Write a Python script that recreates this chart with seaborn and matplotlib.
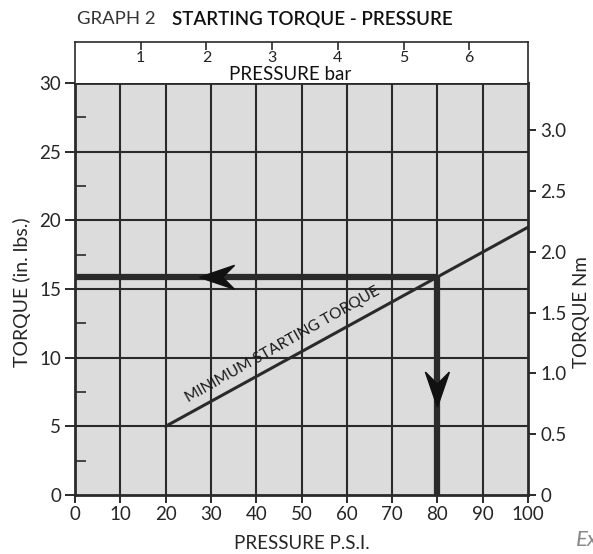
import numpy as np
import pandas as pd
import matplotlib
matplotlib.use("Agg")
import matplotlib.pyplot as plt
import seaborn as sns

# ---- data ----
line_psi = [20, 100]
line_torque = [5.0, 19.5]
op_psi = 80
op_torque = 15.85
psi_ticks = [0, 10, 20, 30, 40, 50, 60, 70, 80, 90, 100]
psi_labels = ["0", "10", "20", "30", "40", "50", "60", "70", "80", "90", "100"]
torque_ticks = [0, 5, 10, 15, 20, 25, 30]
nm_ticks = [0, 0.5, 1.0, 1.5, 2.0, 2.5, 3.0]
nm_labels = ["0", "0.5", "1.0", "1.5", "2.0", "2.5", "3.0"]
bar_ticks = [1, 2, 3, 4, 5, 6]
PSI_PER_BAR = 14.5038
INLB_PER_NM = 8.8507

sns.set_style("white")
plt.rcParams['font.family'] = ['Lato', 'DejaVu Sans']

W, H = 593, 554
fig = plt.figure(figsize=(W / 100, H / 100), dpi=100)
L, R, T, B = 75, 528, 83, 495
ax = fig.add_axes([L / W, 1 - B / H, (R - L) / W, (B - T) / H])
ax.set_facecolor("#dcdcdc")
dark = "#2a2a2a"

# grid
for x in psi_ticks[1:-1]:
    ax.axvline(x, color=dark, lw=1.5, zorder=1)
for y in torque_ticks[1:-1]:
    ax.axhline(y, color=dark, lw=1.5, zorder=1)

df = pd.DataFrame({"psi": line_psi, "torque": line_torque})
sns.lineplot(data=df, x="psi", y="torque", ax=ax, color=dark, lw=2.2, zorder=3)

# operating point lines
ax.plot([0, op_psi], [op_torque, op_torque], color=dark, lw=4.5, zorder=4, solid_capstyle="butt")
ax.plot([op_psi, op_psi], [0, op_torque + 0.15], color=dark, lw=4.5, zorder=4, solid_capstyle="butt")

def arrowhead(ax, tip, direction, length_px=35, half_w_px=12, notch_px=12):
    dxp = 100 / (R - L)
    dyp = 30 / (B - T)
    tx, ty = tip
    if direction == "left":
        pts = [(tx, ty), (tx + length_px * dxp, ty + half_w_px * dyp),
               (tx + (length_px - notch_px) * dxp, ty), (tx + length_px * dxp, ty - half_w_px * dyp)]
    else:
        pts = [(tx, ty), (tx - half_w_px * dxp, ty + length_px * dyp),
               (tx, ty + (length_px - notch_px) * dyp), (tx + half_w_px * dxp, ty + length_px * dyp)]
    ax.add_patch(plt.Polygon(pts, closed=True, color="#111111", zorder=5))

arrowhead(ax, (27.5, op_torque), "left")
arrowhead(ax, (op_psi, 6.4), "down")

ax.text(25.0, 6.75, "MINIMUM STARTING TORQUE", rotation=29.5, rotation_mode="anchor",
        fontsize=11.2, color="#1a1a1a", ha="left", va="baseline", zorder=6)

ax.set_xlim(0, 100)
ax.set_ylim(0, 30)
ax.set_xticks(psi_ticks)
ax.set_xticklabels(psi_labels, fontsize=13.5)
ax.set_yticks(torque_ticks)
ax.set_yticklabels([str(t) for t in torque_ticks], fontsize=13.5)
ax.set_yticks([2.5, 7.5, 12.5, 17.5, 22.5, 27.5], minor=True)
ax.tick_params(axis="y", which="major", direction="out", length=7, width=1.4, color=dark, pad=3)
ax.tick_params(axis="y", which="minor", direction="in", length=8, width=1.2, color=dark, left=True)
ax.tick_params(axis="x", which="major", direction="out", length=6, width=1.4, color=dark, pad=2, bottom=True)
ax.set_xlabel("PRESSURE P.S.I.", fontsize=13.5)
ax.xaxis.set_label_coords(0.5, -0.117)
ax.xaxis.label.set_va("center")
ax.set_ylabel("TORQUE (in. lbs.)", fontsize=14)
ax.yaxis.set_label_coords(-0.118, 0.493)
ax.yaxis.label.set_va("center")
for s in ax.spines.values():
    s.set_color(dark)
    s.set_linewidth(2)

# right axis in Nm
ax2 = ax.twinx()
ax2.set_ylim(0, 30 / INLB_PER_NM)
ax2.set_yticks(nm_ticks)
ax2.set_yticklabels(nm_labels, fontsize=13.5)
ax2.tick_params(axis="y", direction="out", length=6, width=1.4, color=dark, pad=3)
ax2.set_ylabel("TORQUE Nm", fontsize=13.5)
ax2.yaxis.set_label_coords(1.118, 0.444)
ax2.yaxis.label.set_va("center")
for s in ax2.spines.values():
    s.set_visible(False)

# top box: pressure in bar
axt = fig.add_axes([L / W, 1 - T / H, (R - L) / W, 41 / H])
axt.set_facecolor("white")
axt.set_xlim(0, 100 / PSI_PER_BAR)
axt.set_ylim(0, 1)
axt.set_yticks([])
axt.set_xticks(bar_ticks)
axt.xaxis.set_ticks_position("top")
axt.tick_params(axis="x", direction="in", length=6, width=1.2, color=dark, labeltop=False, labelbottom=False)
for b in bar_ticks:
    axt.text(b, 0.62, str(b), ha="center", va="center", fontsize=11.5, color="#222222")
axt.text(47.5 / PSI_PER_BAR, 0.07, "PRESSURE bar", ha="center", va="baseline", fontsize=13.5, color="#111111")
for name, s in axt.spines.items():
    s.set_color(dark)
    s.set_linewidth(1.2)
axt.spines["bottom"].set_visible(False)

fig.text(77 / W, 1 - 19 / H, "GRAPH 2", fontsize=13.3, color="#333333", ha="left", va="center")
fig.text(172 / W, 1 - 19 / H, "STARTING TORQUE - PRESSURE", fontsize=13.5, color="#111111",
         ha="left", va="center", fontweight="semibold")
fig.text(576 / W, 1 - 540 / H, "Ex", fontsize=16, color="#888888", style="italic", ha="left", va="center")

fig.savefig("out.png", dpi=100)
